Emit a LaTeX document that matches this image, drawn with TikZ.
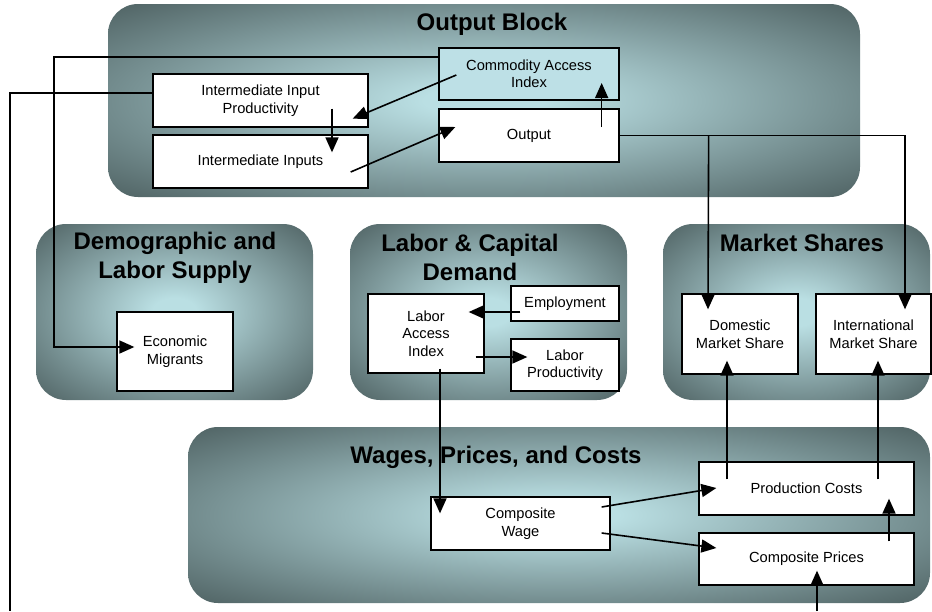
\documentclass[tikz,border=0pt]{standalone}
\usepackage{fontspec}
\setmainfont{Liberation Sans}
\usetikzlibrary{arrows.meta}
\definecolor{blkdark}{HTML}{546869}
\definecolor{blklite}{HTML}{BADFE3}
\definecolor{cailite}{HTML}{BDE0E6}
\pgfdeclareradialshading{blkshade}{\pgfpoint{0bp}{0bp}}{color(0bp)=(blklite); color(4bp)=(blklite); color(34bp)=(blkdark); color(72bp)=(blkdark)}

\begin{document}
\begin{tikzpicture}[x=1pt,y=-1pt]
\tikzset{
  block/.style={rounded corners=30pt, shading=blkshade},
  blocktitle/.style={font=\bfseries\fontsize{24}{29}\selectfont, align=center},
  box/.style={draw, line width=1.3pt, fill=white, inner sep=0pt, align=center, font=\fontsize{14.67}{17.5}\selectfont},
  link/.style={line width=1.6pt},
  arrow/.style={link, -{Triangle[length=15pt,width=13pt]}}
}

\useasboundingbox (0,0) rectangle (932,611);

\path[block] (108,4) rectangle (860,197);
\path[block] (36,224) rectangle (313,400);
\path[block] (350,224) rectangle (627,400);
\path[block] (663,224) rectangle (930,400);
\path[block] (188,427) rectangle (930,603);

\node[blocktitle] (outtitle) at (492,24) {Output Block};
\node[blocktitle] (demtitle) at (175,257.5) {Demographic and\\Labor Supply};
\node[blocktitle] (labtitle) at (470,257.5) {Labor \& Capital\\Demand};
\node[blocktitle] (mkttitle) at (802,243) {Market Shares};
\node[blocktitle] (wagtitle) at (496,457) {Wages, Prices, and Costs};

\node[box, fill=cailite, minimum width=180pt, minimum height=52pt] (cai) at (529,74) {Commodity Access\\Index};
\node[box, minimum width=180pt, minimum height=53pt] (out) at (529,135.5) {Output};
\node[box, minimum width=215pt, minimum height=53pt] (iip) at (260.5,100.5) {Intermediate Input\\Productivity};
\node[box, minimum width=215pt, minimum height=53pt] (ii) at (260.5,161.5) {Intermediate Inputs};
\node[box, minimum width=116pt, minimum height=79pt] (mig) at (175,351.5) {Economic\\Migrants};
\node[box, minimum width=116pt, minimum height=79pt] (lai) at (426,333.5) {Labor\\Access\\Index};
\node[box, minimum width=108pt, minimum height=35pt] (emp) at (565,303.5) {Employment};
\node[box, minimum width=108pt, minimum height=52pt] (lp) at (565,365) {Labor\\Productivity};
\node[box, minimum width=116pt, minimum height=80pt] (dms) at (740,334) {Domestic\\Market Share};
\node[box, minimum width=115pt, minimum height=80pt] (ims) at (873.5,334) {International\\Market Share};
\node[box, minimum width=179pt, minimum height=53pt] (cw) at (520.5,523.5) {Composite\\Wage};
\node[box, minimum width=215pt, minimum height=53pt] (pc) at (806.5,488.5) {Production Costs};
\node[box, minimum width=215pt, minimum height=52pt] (cp) at (806.5,559) {Composite Prices};

\coordinate (migbend) at (54,347);
\coordinate (iipend) at (10,611);
\coordinate (cpin) at (817,611);

\draw[arrow] ([shift={(18,1)}]cai.west) -- ([shift={(-16,-9)}]iip.south east);
\draw[arrow] ([shift={(71.5,-19)}]iip.south) -- ([shift={(71.5,18)}]ii.north);
\draw[arrow] ([shift={(-18,10.5)}]ii.east) -- ([shift={(17,-8.5)}]out.west);
\draw[arrow] ([shift={(-18,-8.5)}]out.east) -- ([shift={(-18,9)}]cai.east);
\draw[arrow] (out.east) -| ([shift={(31.5,16)}]ims.north);
\draw[arrow] ([shift={(89,0)}]out.east) -- ([shift={(-32,16)}]dms.north);
\draw[arrow] ([shift={(0,-17)}]cai.west) -| (migbend) |- ([shift={(18,-4.5)}]mig.west);
\draw[link] ([shift={(0,-7.5)}]iip.west) -| (iipend);

\draw[arrow] ([shift={(10,8.5)}]emp.west) -- ([shift={(-16,-21.5)}]lai.east);
\draw[arrow] ([shift={(-9,23.5)}]lai.east) -- ([shift={(17,-8)}]lp.west);
\draw[arrow] ([shift={(14,-5)}]lai.south) -- ([shift={(-80.5,17)}]cw.north);

\draw[arrow] ([shift={(-79.5,18)}]pc.north) -- ([shift={(-13,-14)}]dms.south);
\draw[arrow] ([shift={(71.5,18)}]pc.north) -- ([shift={(4.5,-14)}]ims.south);
\draw[arrow] ([shift={(-9,-16.5)}]cw.east) -- ([shift={(18,-0.5)}]pc.west);
\draw[arrow] ([shift={(-9,9.5)}]cw.east) -- ([shift={(18,-11)}]cp.west);
\draw[arrow] ([shift={(82.5,9)}]cp.north) -- ([shift={(82.5,-17)}]pc.south);
\draw[arrow] (cpin) -- ([shift={(10.5,-15)}]cp.south);
\end{tikzpicture}
\end{document}
